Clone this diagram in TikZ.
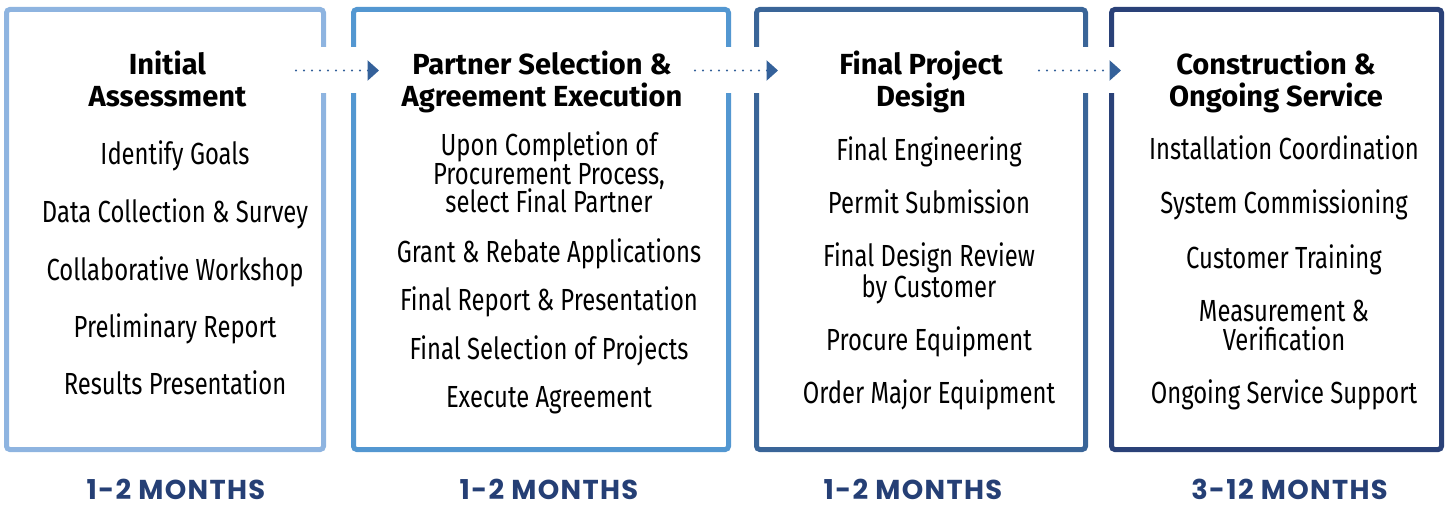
\documentclass[tikz,border=0pt]{standalone}
\usepackage{fontspec}
\setmainfont{Fira Sans}
\newfontfamily\itemfont[FakeStretch=0.78]{Fira Sans}
\newfontfamily\monthfont[LetterSpace=5]{Poppins}
\usetikzlibrary{arrows.meta}

\definecolor{stageA}{HTML}{8EB4E0}
\definecolor{stageB}{HTML}{5397D1}
\definecolor{stageC}{HTML}{3A6598}
\definecolor{stageD}{HTML}{2A4178}
\definecolor{linkblue}{HTML}{34619A}
\definecolor{monthblue}{HTML}{253F75}

\begin{document}
\begin{tikzpicture}[x=0.75pt,y=-0.75pt]
\tikzset{
    stage/.style={line width=3.75pt,rounded corners=2.5pt,inner sep=0pt,minimum height=330pt},
    head/.style={font=\fontsize{21.8}{24}\selectfont\bfseries,align=center,anchor=base},
    item/.style={font=\itemfont\fontsize{22.9}{21.75}\selectfont,align=center,anchor=base},
    months/.style={font=\monthfont\bfseries\fontsize{20.5}{20}\selectfont,text=monthblue,anchor=base},
    link/.style={draw=linkblue,line width=1.7pt,line cap=round,dash pattern=on 0pt off 6pt,
        -{Triangle[length=8.6pt,width=15pt]},
        preaction={draw=white,line width=34.5pt,solid,line cap=butt,-}}
}
\useasboundingbox (0,0) rectangle (1449,506);

% the four stage frames
\node[stage,draw=stageA,minimum width=237.75pt] (assess) at (165,229.5) {};
\node[stage,draw=stageB,minimum width=281.25pt] (select) at (541,229.5) {};
\node[stage,draw=stageC,minimum width=246.75pt] (design) at (921,229.5) {};
\node[stage,draw=stageD,minimum width=247.5pt] (build) at (1276.5,229.5) {};

% dotted links between stages
\coordinate (go1) at (296,70.5);  \coordinate (in1) at (379,70.5);
\coordinate (go2) at (695,70.5);  \coordinate (in2) at (778,70.5);
\coordinate (go3) at (1039,70.5); \coordinate (in3) at (1121,70.5);
\draw[link] (go1) -- (in1);
\draw[link] (go2) -- (in2);
\draw[link] (go3) -- (in3);

% stage 1 (multi-line nodes sit on their last baseline)
\node[head] (assessT) at (167.5,107) {Initial\\Assessment};
\node[item] (goals) at (175,165) {Identify Goals};
\node[item] (survey) at (175,222) {Data Collection \& Survey};
\node[item] (workshop) at (175,280) {Collaborative Workshop};
\node[item] (prelim) at (175,337) {Preliminary Report};
\node[item] (results) at (175,394) {Results Presentation};

% stage 2
\node[head] (selectT) at (542,107) {Partner Selection \&\\Agreement Execution};
\node[item] (partner) at (549,213) {Upon Completion of\\Procurement Process,\\select Final Partner};
\node[item] (grant) at (549,262) {Grant \& Rebate Applications};
\node[item] (report) at (549,310) {Final Report \& Presentation};
\node[item] (projects) at (549,359) {Final Selection of Projects};
\node[item] (execute) at (549,407) {Execute Agreement};

% stage 3
\node[head] (designT) at (921,107) {Final Project\\Design};
\node[item] (engineer) at (929,161) {Final Engineering};
\node[item] (permit) at (929,214) {Permit Submission};
\node[item] (review) at (929,297) {Final Design Review\\by Customer};
\node[item] (procure) at (929,350) {Procure Equipment};
\node[item] (order) at (929,403) {Order Major Equipment};

% stage 4
\node[head] (buildT) at (1276,107) {Construction \&\\Ongoing Service};
\node[item] (install) at (1284,160) {Installation Coordination};
\node[item] (commission) at (1284,214) {System Commissioning};
\node[item] (training) at (1284,268) {Customer Training};
\node[item] (verify) at (1284,350) {Measurement \&\\Verification};
\node[item] (support) at (1284,403) {Ongoing Service Support};

% durations
\node[months] (dur1) at (176,499) {1-2 MONTHS};
\node[months] (dur2) at (549,499) {1-2 MONTHS};
\node[months] (dur3) at (913,499) {1-2 MONTHS};
\node[months] (dur4) at (1289.5,499) {3-12 MONTHS};
\end{tikzpicture}
\end{document}
